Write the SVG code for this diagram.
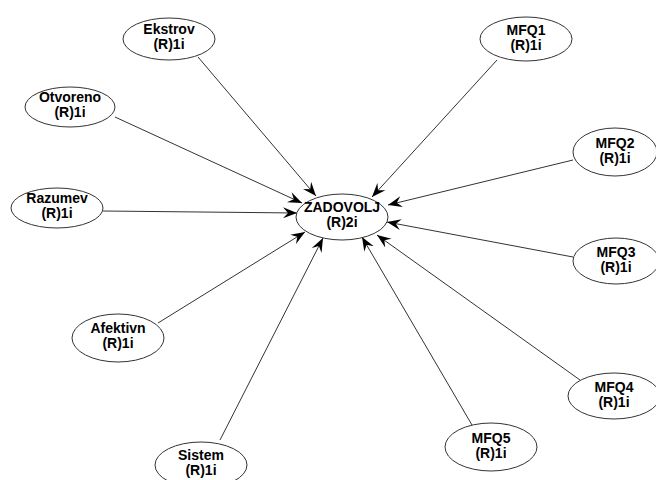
<svg xmlns="http://www.w3.org/2000/svg" width="656" height="480" viewBox="0 0 656 480">
<style>
.n ellipse{fill:#fff;stroke:#333;stroke-width:1}
.n text{font-family:"Liberation Sans",Arial,sans-serif;font-weight:bold;font-size:14px;fill:#000;text-anchor:middle}
.c line{stroke:#333;stroke-width:1;fill:none;marker-end:url(#ah)}
</style>
<defs>
<marker id="ah" markerUnits="userSpaceOnUse" markerWidth="16" markerHeight="12" viewBox="-14 -6 16 12" refX="0" refY="0" orient="auto">
<path d="M0,0 L-14,-5.5 L-9,0 L-14,5.5 Z" fill="#000"/>
</marker>
</defs>
<rect width="656" height="480" fill="#fff"/>
<g class="c" id="connectors">
<line x1="198" y1="57" x2="316" y2="196"/>
<line x1="115" y1="117" x2="302" y2="203"/>
<line x1="103" y1="211" x2="297" y2="213"/>
<line x1="158" y1="323" x2="305" y2="232"/>
<line x1="220" y1="440" x2="323" y2="238"/>
<line x1="497" y1="60" x2="372" y2="197"/>
<line x1="573" y1="160" x2="388" y2="205"/>
<line x1="573" y1="257" x2="387" y2="222"/>
<line x1="580" y1="380" x2="377" y2="235"/>
<line x1="472" y1="425" x2="362" y2="237"/>
</g>
<g class="n" id="ZADOVOLJ"><ellipse cx="342" cy="217" rx="46" ry="23"/><text x="342" y="212">ZADOVOLJ</text><text x="342" y="227">(R)2i</text></g>
<g class="n" id="Ekstrov"><ellipse cx="169" cy="39" rx="46" ry="21"/><text x="169" y="34">Ekstrov</text><text x="169" y="49">(R)1i</text></g>
<g class="n" id="Otvoreno"><ellipse cx="70" cy="107" rx="45" ry="20"/><text x="70" y="102">Otvoreno</text><text x="70" y="117">(R)1i</text></g>
<g class="n" id="Razumev"><ellipse cx="57" cy="208" rx="46" ry="20"/><text x="57" y="203">Razumev</text><text x="57" y="218">(R)1i</text></g>
<g class="n" id="Afektivn"><ellipse cx="118" cy="338" rx="46" ry="24"/><text x="118" y="333">Afektivn</text><text x="118" y="348">(R)1i</text></g>
<g class="n" id="Sistem"><ellipse cx="201" cy="465" rx="46" ry="23"/><text x="201" y="460">Sistem</text><text x="201" y="475">(R)1i</text></g>
<g class="n" id="MFQ1"><ellipse cx="526" cy="39" rx="46" ry="22"/><text x="526" y="35">MFQ1</text><text x="526" y="50">(R)1i</text></g>
<g class="n" id="MFQ2"><ellipse cx="615" cy="152" rx="42" ry="24"/><text x="615" y="148">MFQ2</text><text x="615" y="163">(R)1i</text></g>
<g class="n" id="MFQ3"><ellipse cx="616" cy="261" rx="43" ry="23"/><text x="616" y="257">MFQ3</text><text x="616" y="272">(R)1i</text></g>
<g class="n" id="MFQ4"><ellipse cx="614" cy="396" rx="46" ry="23"/><text x="614" y="392">MFQ4</text><text x="614" y="407">(R)1i</text></g>
<g class="n" id="MFQ5"><ellipse cx="491" cy="447" rx="46" ry="24"/><text x="491" y="443">MFQ5</text><text x="491" y="458">(R)1i</text></g>
</svg>
